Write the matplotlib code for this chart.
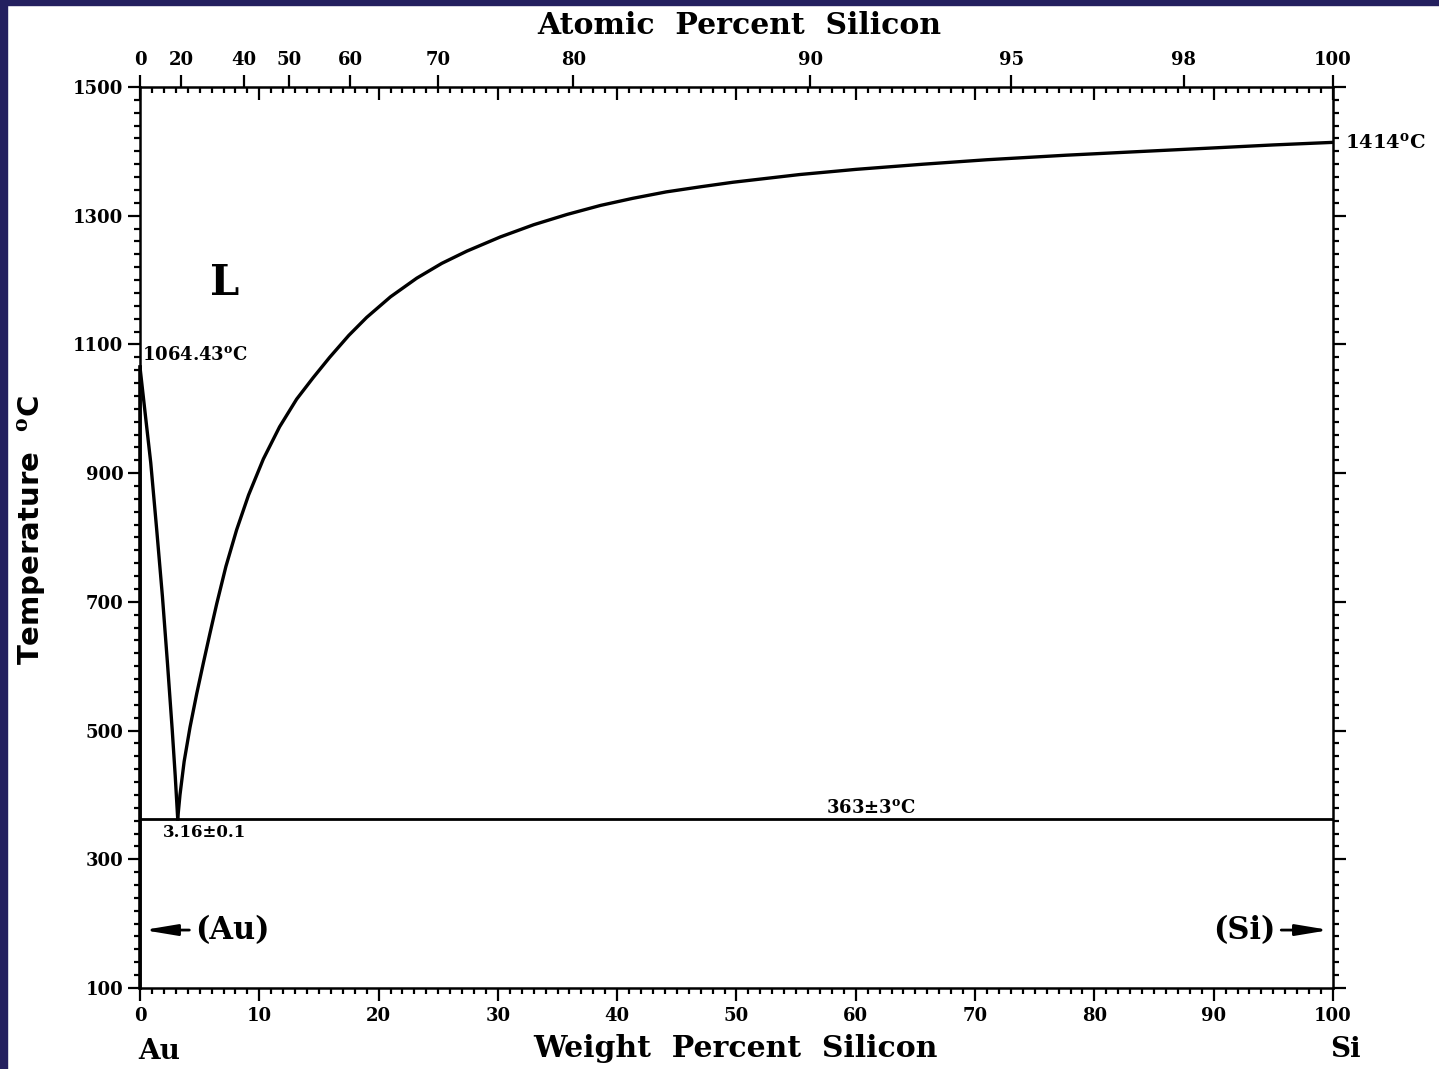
import numpy as np
import matplotlib
matplotlib.use("Agg")
import matplotlib.pyplot as plt
from matplotlib.patches import Rectangle
from matplotlib.ticker import MultipleLocator, FixedLocator, NullFormatter

plt.rcParams["font.family"] = ["DejaVu Serif"]
plt.rcParams["font.weight"] = "bold"
plt.rcParams["mathtext.fontset"] = "dejavuserif"

# liquidus, Au side (wt% Si, deg C)
au_wt = [0.0, 0.45, 0.9, 1.4, 1.88, 2.3, 2.7, 2.95, 3.16]
au_T = [1064.43, 990, 916, 812, 708, 605, 501, 430, 363]

# liquidus, Si side
si_wt = [3.16, 3.35, 3.7, 4.19, 4.75, 5.31, 5.85, 6.43, 7.2, 8.1, 9.1, 10.34,
         11.7, 13.13, 14.5, 15.9, 17.5, 19.0, 21.0, 23.2, 25.3, 27.4, 30.2,
         33.0, 35.8, 38.6, 41.3, 44.1, 47.0, 49.7, 55.3, 60.0, 65.6, 71.0,
         77.6, 83.0, 89.6, 95.0, 100.0]
si_T = [363, 400, 452, 505, 557, 605, 650, 697, 755, 812, 866, 922,
        972, 1015, 1048, 1080, 1114, 1142, 1174, 1203, 1226, 1245, 1267,
        1286, 1302, 1316, 1327, 1337, 1345, 1352, 1364, 1372, 1380, 1387,
        1394, 1399, 1405, 1410, 1414]

eutectic_T = 363
at_ticks = [0, 20, 40, 50, 60, 70, 80, 90, 95, 98, 100]
y_labels = [100, 300, 500, 700, 900, 1100, 1300, 1500]

M_SI, M_AU = 28.086, 196.97


def at_to_wt(a):
    a = np.asarray(a, dtype=float)
    with np.errstate(divide="ignore", invalid="ignore"):
        return 100 * a * M_SI / (a * M_SI + (100 - a) * M_AU)


def wt_to_at(w):
    w = np.asarray(w, dtype=float)
    with np.errstate(divide="ignore", invalid="ignore"):
        return 100 * (w / M_SI) / (w / M_SI + (100 - w) / M_AU)


fig = plt.figure(figsize=(14.39, 10.69), dpi=100)
fig.patch.set_facecolor("white")
fig.patches.append(Rectangle((0, 0.9953), 1, 0.0047, transform=fig.transFigure,
                             color="#24205f", zorder=0))
fig.patches.append(Rectangle((0, 0), 0.0049, 1, transform=fig.transFigure,
                             color="#24205f", zorder=0))

ax = fig.add_axes([0.0973, 0.0758, 0.829, 0.8428])
ax.set_xlim(0, 100)
ax.set_ylim(100, 1500)

lw = 2.4
ax.plot(au_wt, au_T, color="black", lw=lw, solid_joinstyle="round")
ax.plot(si_wt, si_T, color="black", lw=lw, solid_joinstyle="round")
ax.plot([0, 100], [eutectic_T, eutectic_T], color="black", lw=2.0)
ax.plot([0, 0], [100, 1064.43], color="black", lw=2.6, clip_on=False)

for s in ax.spines.values():
    s.set_linewidth(1.8)

ax.xaxis.set_major_locator(MultipleLocator(10))
ax.xaxis.set_minor_locator(MultipleLocator(1))
ax.yaxis.set_major_locator(FixedLocator(y_labels))
ax.yaxis.set_minor_locator(MultipleLocator(20))
ax.tick_params(which="both", direction="out", right=True, width=1.6,
               labelsize=13)
ax.tick_params(axis="y", pad=3)
ax.tick_params(axis="x", pad=5)
ax.tick_params(which="major", length=9)
ax.tick_params(which="minor", length=4)

# mirrored weight-percent ticks on the top spine, pointing inwards
top_in = ax.secondary_xaxis("top")
top_in.xaxis.set_major_locator(MultipleLocator(10))
top_in.xaxis.set_minor_locator(MultipleLocator(1))
top_in.xaxis.set_major_formatter(NullFormatter())
top_in.tick_params(which="both", direction="in", width=1.6)
top_in.tick_params(which="major", length=9)
top_in.tick_params(which="minor", length=4)
top_in.spines["top"].set_visible(False)

# atomic percent scale
top = ax.secondary_xaxis("top", functions=(wt_to_at, at_to_wt))
top.xaxis.set_major_locator(FixedLocator(at_ticks))
top.tick_params(which="major", direction="out", length=9, width=1.6,
                labelsize=13, pad=4)
top.spines["top"].set_visible(False)

ax.text(7.1, 1195, "L", fontsize=30, ha="center", va="center")
ax.text(0.2, 1083, r"1064.43$^\mathbf{o}$C", fontsize=13, ha="left", va="center")
ax.text(1.9, 342, "3.16±0.1", fontsize=12, ha="left", va="center")
ax.text(61.3, 366, r"363±3$^\mathbf{o}$C", fontsize=13, ha="center", va="bottom")
ax.text(101, 1414, r"1414$^\mathbf{o}$C", fontsize=14, ha="left", va="center",
        clip_on=False)

arrow = dict(arrowstyle="-|>,head_length=0.9,head_width=0.15", color="black",
             lw=2.0, shrinkA=2, shrinkB=0)
ax.annotate("(Au)", xy=(0.3, 190), xytext=(4.6, 190), fontsize=22,
            ha="left", va="center", arrowprops=arrow)
ax.annotate("(Si)", xy=(99.7, 190), xytext=(95.2, 190), fontsize=22,
            ha="right", va="center", arrowprops=arrow)

fig.text(0.511, 0.0196, "Weight  Percent  Silicon", fontsize=21.5, ha="center",
         va="center")
fig.text(0.514, 0.9766, "Atomic  Percent  Silicon", fontsize=21.5, ha="center",
         va="center")
fig.text(0.111, 0.016, "Au", fontsize=20, ha="center", va="center")
fig.text(0.935, 0.018, "Si", fontsize=20, ha="center", va="center")
fig.text(0.022, 0.504, r"Temperature  $^\mathrm{o}$C", fontsize=21,
         family="DejaVu Sans", rotation=90, ha="center", va="center")

fig.savefig("out.png", dpi=100)
